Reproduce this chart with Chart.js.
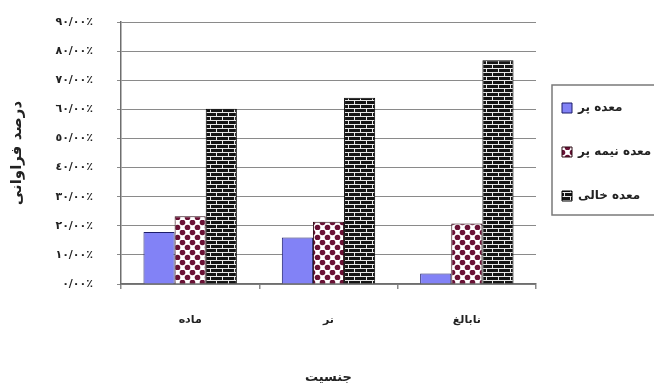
<!DOCTYPE html>
<html>
<head>
<meta charset="utf-8">
<script src="https://cdn.jsdelivr.net/npm/chart.js@4/dist/chart.umd.min.js"></script>
<style>
  html, body { margin: 0; padding: 0; background: #ffffff; }
  #wrap { width: 654px; height: 389px; }
</style>
</head>
<body>
<div id="wrap"><canvas id="chart" width="654" height="389"></canvas></div>
<script>
// Stomach-fullness frequency by sex group
const categories = ['ماده', 'نر', 'نابالغ'];
const seriesNames = ['معده پر', 'معده نیمه پر', 'معده خالی'];
const fullStomach = [17.9, 16.0, 3.6];
const halfStomach = [23.3, 21.4, 20.8];
const emptyStomach = [60.2, 64.0, 76.9];
const yTickLabels = ['٠/٠٠٪', '١٠/٠٠٪', '٢٠/٠٠٪', '٣٠/٠٠٪', '٤٠/٠٠٪',
                     '٥٠/٠٠٪', '٦٠/٠٠٪', '٧٠/٠٠٪', '٨٠/٠٠٪', '٩٠/٠٠٪'];
const xTitle = 'جنسیت';
const yTitle = 'درصد فراوانی';

const FONT = '"DejaVu Sans", sans-serif';
const GRID = '#8a8a8a';

// Fill patterns for the hatched series
function dotPattern() {
  const c = document.createElement('canvas');
  c.width = 10; c.height = 10;
  const g = c.getContext('2d');
  g.fillStyle = '#ffffff';
  g.fillRect(0, 0, 10, 10);
  g.fillStyle = '#6a1236';
  [[2.5, 2.5], [7.5, 7.5], [12.5, 2.5], [-2.5, 7.5]].forEach(([x, y]) => {
    g.beginPath(); g.arc(x, y, 2.8, 0, Math.PI * 2); g.fill();
  });
  return g.createPattern(c, 'repeat');
}

function brickPattern() {
  const c = document.createElement('canvas');
  c.width = 12; c.height = 8;
  const g = c.getContext('2d');
  g.fillStyle = '#141414';
  g.fillRect(0, 0, 12, 8);
  g.fillStyle = '#e8e8e8';
  g.fillRect(0, 0, 12, 1);
  g.fillRect(0, 4, 12, 1);
  g.fillRect(0, 0, 1, 4);
  g.fillRect(6, 4, 1, 4);
  return g.createPattern(c, 'repeat');
}

// Legend column: fixed width in the layout, items placed from the top of the frame
const legendPlacement = {
  id: 'legendPlacement',
  afterInit(chart) {
    const lg = chart.legend;
    const fit = lg.fit.bind(lg);
    lg.fit = function () { fit(); this.width = 118; };
  },
  afterLayout(chart) {
    const lg = chart.legend;
    lg.left = 530;
    lg.top = 70;
  },
  afterDraw(chart) {
    const boxes = chart.legend.legendHitBoxes;
    if (!boxes || !boxes.length) return;
    const first = boxes[0], last = boxes[boxes.length - 1];
    const ctx = chart.ctx;
    ctx.save();
    ctx.strokeStyle = '#7a7a7a';
    ctx.lineWidth = 1.5;
    const x = first.left - 10;
    const y = first.top - 17;
    const h = (last.top + 25) - y;
    ctx.strokeRect(x, y, 700 - x, h);
    ctx.restore();
  }
};

new Chart(document.getElementById('chart'), {
  type: 'bar',
  data: {
    labels: categories,
    datasets: [
      { label: seriesNames[0], data: fullStomach, backgroundColor: '#8282f6', borderColor: '#1c1c6a', borderWidth: 1 },
      { label: seriesNames[1], data: halfStomach, backgroundColor: dotPattern(), borderColor: '#2a0812', borderWidth: 1 },
      { label: seriesNames[2], data: emptyStomach, backgroundColor: brickPattern(), borderColor: '#000000', borderWidth: 1 }
    ]
  },
  options: {
    responsive: false,
    animation: false,
    devicePixelRatio: 1,
    layout: { padding: { top: 22, right: 0, bottom: 0, left: 0 } },
    datasets: { bar: { categoryPercentage: 0.675, barPercentage: 1.0 } },
    scales: {
      x: {
        afterFit(scale) { scale.height = 105; scale.paddingLeft = 0; scale.paddingRight = 0; },
        grid: {
          offset: true,
          color: (ctx) => ctx.index === categories.length ? GRID : 'rgba(0,0,0,0)',
          tickColor: GRID,
          tickLength: 5,
          lineWidth: 1.5
        },
        border: { color: '#6e6e6e', width: 1.5 },
        ticks: {
          padding: 25,
          color: '#222222',
          font: { family: FONT, size: 11, weight: 'bold' }
        },
        title: {
          display: true,
          text: xTitle,
          color: '#222222',
          padding: { top: 0, bottom: 4 },
          font: { family: FONT, size: 13, weight: 'bold' }
        }
      },
      y: {
        min: 0,
        max: 90,
        afterFit(scale) { scale.width = 121; scale.paddingTop = 0; scale.paddingBottom = 0; },
        grid: { color: GRID, tickColor: GRID, tickLength: 4, lineWidth: 1 },
        border: { color: '#6e6e6e', width: 1.5 },
        ticks: {
          stepSize: 10,
          padding: 24,
          color: '#222222',
          font: { family: FONT, size: 11, weight: 'bold' },
          callback: (value, index) => yTickLabels[index]
        },
        title: {
          display: true,
          text: yTitle,
          color: '#222222',
          padding: { top: 8, bottom: 0 },
          font: { family: FONT, size: 15, weight: 'bold' }
        }
      }
    },
    plugins: {
      tooltip: { enabled: false },
      legend: {
        position: 'right',
        align: 'start',
        labels: {
          boxWidth: 10,
          boxHeight: 10,
          padding: 32,
          color: '#222222',
          font: { family: FONT, size: 12, weight: 'bold' }
        }
      }
    }
  },
  plugins: [legendPlacement]
});
</script>
</body>
</html>
